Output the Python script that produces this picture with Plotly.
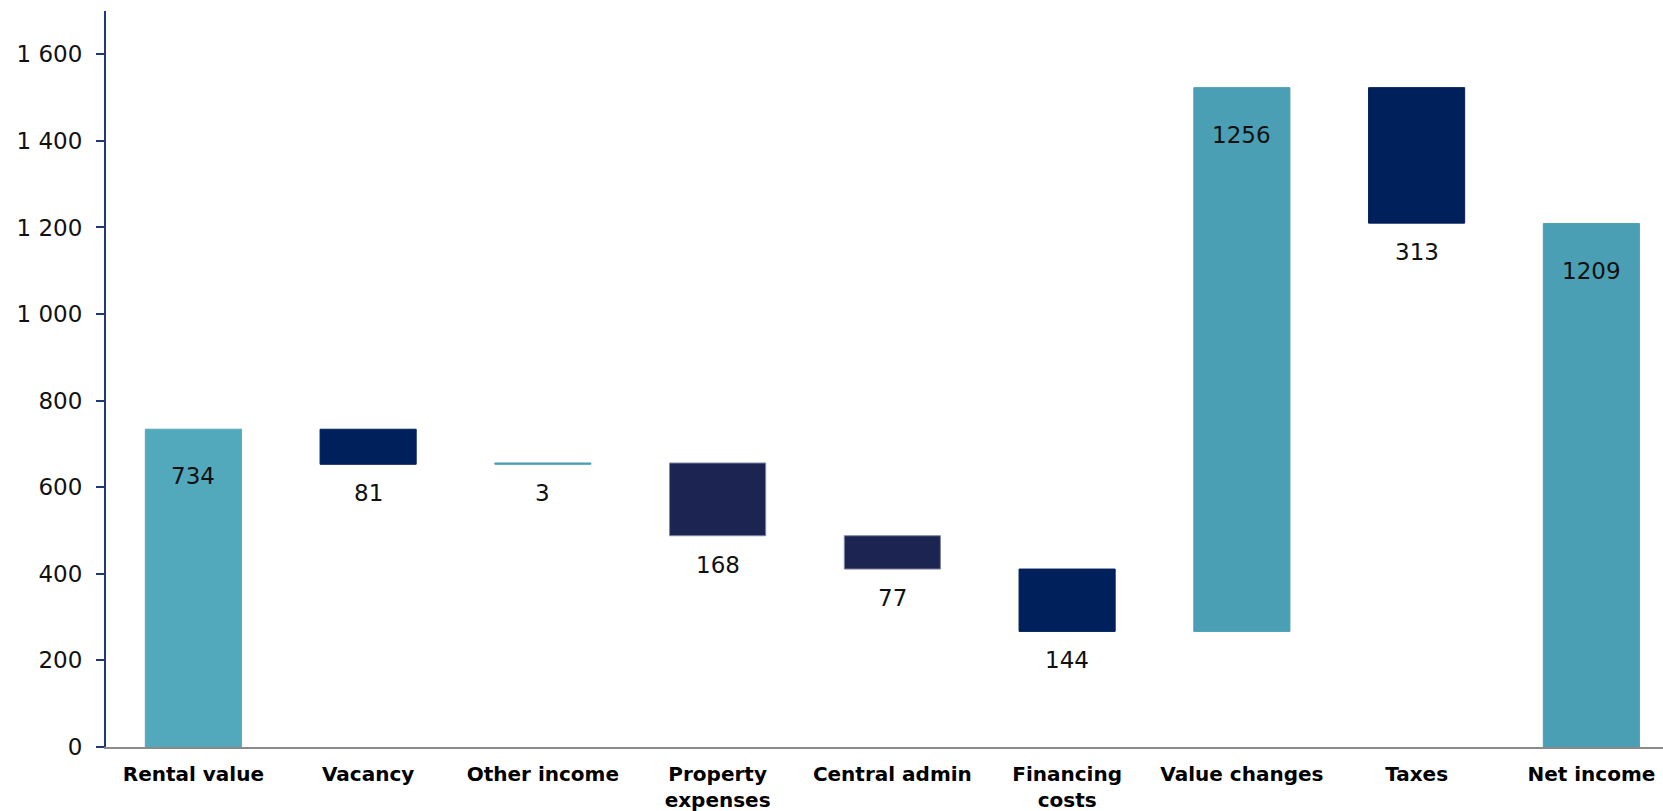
import plotly.graph_objects as go

categories = ["Rental value", "Vacancy", "Other income", "Property<br>expenses",
              "Central admin", "Financing<br>costs", "Value changes", "Taxes", "Net income"]
values = [734, -81, 3, -168, -77, -144, 1256, -313, 1209]
is_total = [False, False, False, False, False, False, False, False, True]
labels = ["734", "81", "3", "168", "77", "144", "1256", "313", "1209"]
colors = ["#52A9BC", "#00205B", "#4A9FB4", "#1C2552", "#1C2552",
          "#00205B", "#4A9FB4", "#00205B", "#4A9FB4"]
line_colors = ["#52A9BC", "#00205B", "#4A9FB4", "#7E86A2", "#7E86A2",
               "#00205B", "#4A9FB4", "#00205B", "#4A9FB4"]

# compute bar bases from running total
bases, heights = [], []
running = 0
for v, tot in zip(values, is_total):
    if tot:
        bases.append(0)
        heights.append(v)
        running = v
    else:
        if v >= 0:
            bases.append(running)
            heights.append(v)
        else:
            bases.append(running + v)
            heights.append(-v)
        running += v

x_idx = list(range(len(categories)))

fig = go.Figure()
fig.add_trace(go.Bar(
    x=x_idx, y=heights, base=bases, width=0.55,
    marker=dict(color=colors, line=dict(color=line_colors, width=1)),
    hoverinfo="skip", showlegend=False,
))

label_font = dict(family="DejaVu Sans", size=23, color="#111111")
annotations = []
for i, (b, h, v, lab) in enumerate(zip(bases, heights, values, labels)):
    if v > 20:
        annotations.append(dict(x=i, y=b + h, text=lab, showarrow=False,
                                yanchor="middle", yshift=-47, font=label_font))
    else:
        annotations.append(dict(x=i, y=b, text=lab, showarrow=False,
                                yanchor="middle", yshift=-29, font=label_font))

fig.update_layout(
    width=1663, height=811,
    margin=dict(l=106, r=0, t=11, b=64),
    plot_bgcolor="white", paper_bgcolor="white",
    separators=". ",
    annotations=annotations,
    xaxis=dict(
        tickmode="array", tickvals=x_idx, ticktext=categories,
        range=[-0.5, 8.41],
        showgrid=False, zeroline=False,
        showline=True, linecolor="#8A8A8A", linewidth=2,
        ticks="", ticklabelstandoff=8,
        tickfont=dict(family="DejaVu Sans", size=20, color="#000000", weight="bold"),
    ),
    yaxis=dict(
        range=[0, 1700], dtick=200, tick0=0,
        separatethousands=True,
        showgrid=False, zeroline=False,
        showline=True, linecolor="#1F3A7A", linewidth=2,
        ticks="outside", ticklen=8, tickwidth=2, tickcolor="#1F3A7A",
        ticklabelstandoff=9,
        tickfont=dict(family="DejaVu Sans", size=23, color="#111111"),
    ),
)

fig.write_html("out.html")
